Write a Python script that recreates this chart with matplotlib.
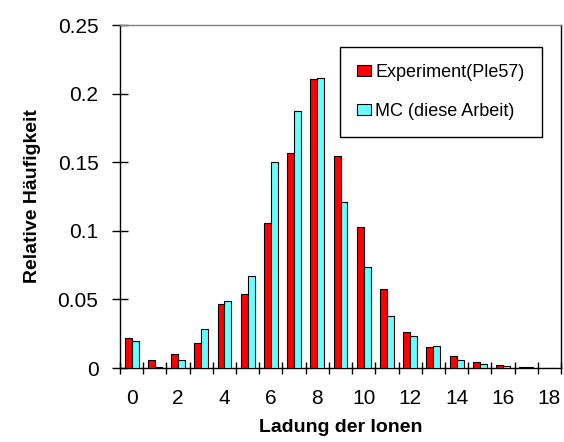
import numpy as np
import matplotlib.pyplot as plt

plt.rcParams['font.family'] = ['Liberation Sans', 'DejaVu Sans']

# charge states 0..18
ladung = np.arange(19)
experiment = [0.0221, 0.0061, 0.0102, 0.0180, 0.0464, 0.0540, 0.1054, 0.1570, 0.2106,
              0.1548, 0.1030, 0.0576, 0.0260, 0.0151, 0.0085, 0.0045, 0.0019, 0.0005, 0.0]
mc = [0.0194, 0.0010, 0.0061, 0.0287, 0.0488, 0.0670, 0.1500, 0.1870, 0.2116,
      0.1208, 0.0738, 0.0377, 0.0233, 0.0158, 0.0057, 0.0029, 0.0012, 0.0005, 0.0]
xlabels = [str(i) if i % 2 == 0 else '' for i in ladung]

fig = plt.figure(figsize=(5.64, 4.42), dpi=100)
ax = fig.add_axes([0.2128, 0.1674, 0.7819, 0.776])

w = 0.3
ax.bar(ladung - w / 2, experiment, width=w, color='#FF0000', edgecolor='black',
       linewidth=0.8, label='Experiment(Ple57)', zorder=3)
ax.bar(ladung + w / 2, mc, width=w, color='#66FFFF', edgecolor='black',
       linewidth=0.8, label='MC (diese Arbeit)', zorder=3)

ax.set_xlim(-0.5, 18.5)
ax.set_ylim(0, 0.25)
ax.set_yticks([0, 0.05, 0.1, 0.15, 0.2, 0.25])
ax.set_yticklabels(['0', '0.05', '0.1', '0.15', '0.2', '0.25'])

# labels on the categories, tick marks on the category borders
ax.set_xticks(ladung)
ax.set_xticklabels(xlabels)
ax.tick_params(axis='x', which='major', length=0, pad=15, labelsize=15)
ax.set_xticks(np.arange(-0.5, 19, 1), minor=True)
ax.tick_params(axis='x', which='minor', direction='inout', length=8, width=1)
ax.tick_params(axis='y', direction='inout', length=11, width=1, pad=10, labelsize=15)

ax.spines['top'].set_color('#808080')
ax.spines['right'].set_color('black')
for s in ax.spines.values():
    s.set_linewidth(1)

ax.set_xlabel('Ladung der Ionen', fontsize=14, fontweight='bold', labelpad=8)
ax.set_ylabel('Relative Häufigkeit', fontsize=14, fontweight='bold', labelpad=12)

leg = ax.legend(loc='upper left', bbox_to_anchor=(0.499, 0.936), fontsize=13,
                frameon=True, fancybox=False, edgecolor='black', framealpha=1,
                handlelength=0.75, handleheight=0.6, handletextpad=0.25,
                labelspacing=1.2, borderpad=0.95, borderaxespad=0)
leg.get_frame().set_linewidth(1)

fig.savefig('out.png', dpi=100)
